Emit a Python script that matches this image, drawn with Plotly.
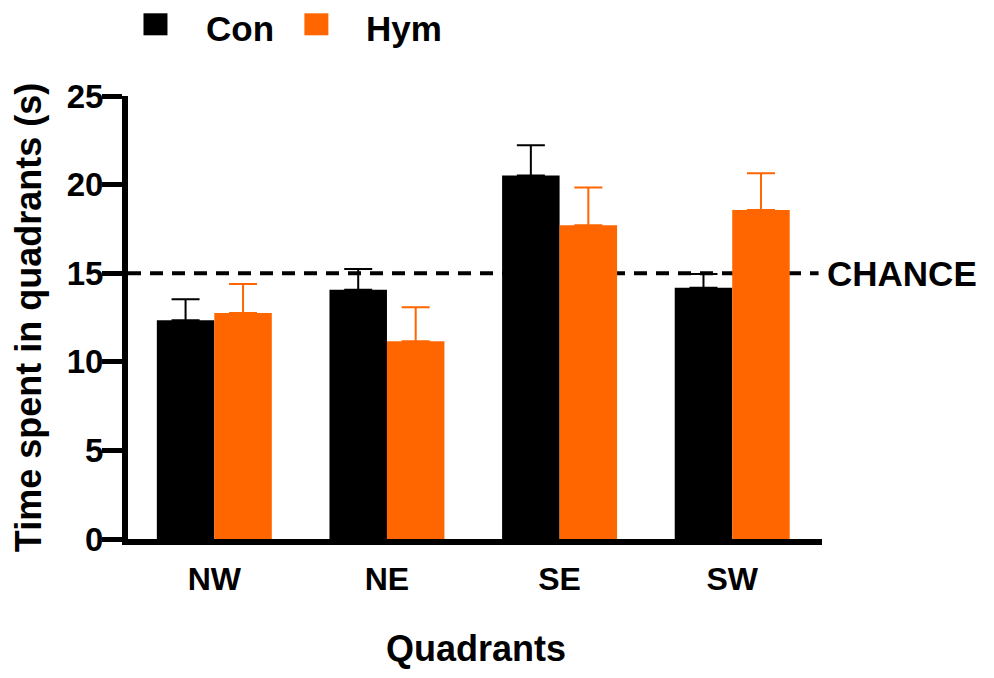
import plotly.graph_objects as go

quadrants = ["NW", "NE", "SE", "SW"]
con_mean = [12.35, 14.07, 20.52, 14.18]
con_sem = [1.18, 1.17, 1.70, 0.78]
hym_mean = [12.75, 11.16, 17.70, 18.57]
hym_sem = [1.64, 1.92, 2.13, 2.07]
chance_level = 15
y_ticks = [0, 5, 10, 15, 20, 25]

BLACK = "#000000"
ORANGE = "#FF6600"
FONT = "Liberation Sans, Arial, sans-serif"

OFF = 8  # default page body margin
W, H = 994 - 2 * OFF, 678 - 2 * OFF
L, T = 127.5 - OFF, 95.7 - OFF
R = W - (822 - OFF)
B = H - (538.7 - OFF)
pw, ph = W - L - R, H - T - B


def px_x(p):
    return (p - OFF - L) / pw


def px_y(p):
    return (H - B - (p - OFF)) / ph


fig = go.Figure()
fig.add_trace(go.Bar(
    x=quadrants, y=con_mean, name="Con", marker=dict(color=BLACK, line=dict(width=0)),
    error_y=dict(type="data", array=con_sem, arrayminus=[0] * 4, symmetric=False,
                 color=BLACK, thickness=2, width=14),
    showlegend=False,
))
fig.add_trace(go.Bar(
    x=quadrants, y=hym_mean, name="Hym", marker=dict(color=ORANGE, line=dict(width=0)),
    error_y=dict(type="data", array=hym_sem, arrayminus=[0] * 4, symmetric=False,
                 color=ORANGE, thickness=2, width=14),
    showlegend=False,
))

# chance line behind bars
fig.add_shape(type="line", xref="x", yref="y", x0=-0.5, x1=3.5, y0=chance_level, y1=chance_level,
              line=dict(color=BLACK, width=4, dash="13px,9px"), layer="below")
fig.add_annotation(x=3.5, y=chance_level, xref="x", yref="y", text="CHANCE", showarrow=False,
                   xanchor="left", yanchor="middle", xshift=6,
                   font=dict(family=FONT, size=35, color=BLACK, weight="bold"))

# legend
for (x0, x1), label, tx, col in [((143, 167), "Con", 205, BLACK), ((304, 328), "Hym", 365, ORANGE)]:
    fig.add_shape(type="rect", xref="paper", yref="paper",
                  x0=px_x(x0), x1=px_x(x1), y0=px_y(35), y1=px_y(13),
                  fillcolor=col, line=dict(width=0))
    fig.add_annotation(x=px_x(tx), y=px_y(OFF), xref="paper", yref="paper", text=label,
                       showarrow=False, xanchor="left", yanchor="top", borderpad=0,
                       font=dict(family=FONT, size=35, color=BLACK, weight="bold"))

# x axis title (kept inside the figure's bottom edge)
fig.add_annotation(x=px_x(476), y=px_y(H + OFF), xref="paper", yref="paper", text="Quadrants",
                   showarrow=False, xanchor="center", yanchor="bottom", borderpad=0,
                   font=dict(family=FONT, size=36, color=BLACK, weight="bold"))

fig.update_layout(
    width=W, height=H,
    margin=dict(l=L, r=R, t=T, b=B, pad=0, autoexpand=False),
    plot_bgcolor="white", paper_bgcolor="white",
    barmode="group", bargap=0.334, bargroupgap=0,
    showlegend=False,
    font=dict(family=FONT, color=BLACK),
)
fig.update_xaxes(
    range=[-0.5, 3.52], showgrid=False, zeroline=False, automargin=False,
    showline=True, linecolor=BLACK, linewidth=6, ticks="",
    tickfont=dict(family=FONT, size=32, color=BLACK, weight="bold"),
    ticklabelstandoff=7,
)
fig.update_yaxes(
    range=[0, 25], tickvals=y_ticks, showgrid=False, zeroline=False, automargin=False,
    showline=True, linecolor=BLACK, linewidth=6,
    ticks="outside", ticklen=20, tickwidth=5, tickcolor=BLACK,
    tickfont=dict(family=FONT, size=33, color=BLACK, weight="bold"),
    ticklabelstandoff=-8,
    title=dict(text="Time spent in quadrants (s)",
               font=dict(family=FONT, size=36, color=BLACK, weight="bold"), standoff=28),
)

fig.write_html("out.html")
